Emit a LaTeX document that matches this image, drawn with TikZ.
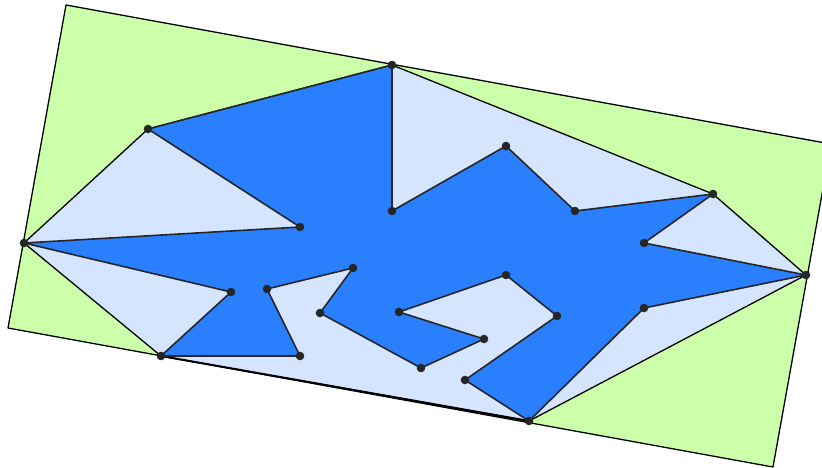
\documentclass[tikz,border=0pt]{standalone}
\usepackage{xcolor}
\definecolor{rectgreen}{RGB}{204,255,170}
\definecolor{hullblue}{RGB}{213,229,255}
\definecolor{polyblue}{RGB}{42,127,255}
\definecolor{darkslate}{RGB}{38,38,38}
\usetikzlibrary{calc}

\begin{document}
\begin{tikzpicture}[x=1pt, y=-1pt, line join=round,
    hulledge/.style={draw=black, line width=1.3pt},
    polyedge/.style={draw=darkslate, line width=1.6pt},
    vertex/.style={fill=darkslate}]
    \useasboundingbox (0,0) rectangle (822,468);
    \clip (0,0) rectangle (822,468);

    % minimum bounding rectangle
    \coordinate (ra) at (66,5);
    \coordinate (rb) at (831,144);
    \coordinate (rc) at (773,467);
    \coordinate (rd) at (8,328);
    \filldraw[hulledge, fill=rectgreen] (ra) -- (rb) -- (rc) -- (rd) -- cycle;

    % polygon vertices
    \foreach \n/\x/\y in {p1/392/65, p2/148/129, p3/300/227, p4/24/243,
        p5/231/292, p6/161/356, p7/300/356, p8/267/289, p9/353/268,
        p10/320/313, p11/421/368, p12/484/339, p13/399/312, p14/506/275,
        p15/557/316, p16/465/380, p17/529/421, p18/644/308, p19/806/275,
        p20/644/243, p21/713/194, p22/575/211, p23/506/146, p24/392/211}
        \coordinate (\n) at (\x,\y);

    % convex hull
    \filldraw[hulledge, fill=hullblue] (p1) -- (p21) -- (p19) -- (p17) -- (p6) -- (p4) -- (p2) -- cycle;
    \draw[black, line width=2pt] (p6) -- (p17);

    % polygon
    \filldraw[polyedge, fill=polyblue] (p1) -- (p2) -- (p3) -- (p4) -- (p5) -- (p6) -- (p7) -- (p8)
        -- (p9) -- (p10) -- (p11) -- (p12) -- (p13) -- (p14) -- (p15) -- (p16) -- (p17)
        -- (p18) -- (p19) -- (p20) -- (p21) -- (p22) -- (p23) -- (p24) -- cycle;

    \foreach \n in {1,...,24}
        \path[vertex] (p\n) circle (4.3pt);
\end{tikzpicture}
\end{document}
